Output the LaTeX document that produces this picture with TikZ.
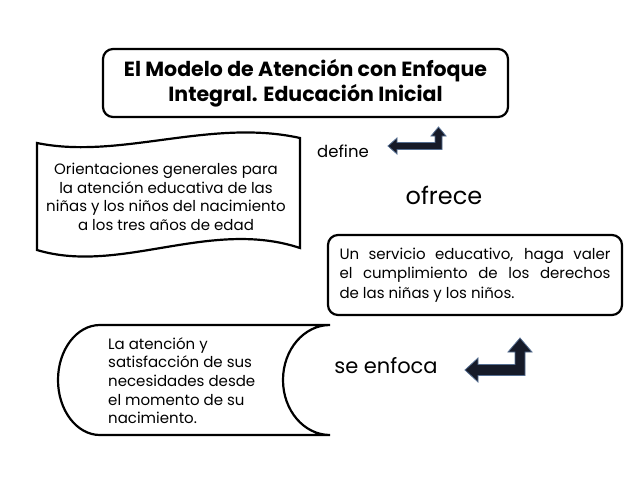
\documentclass[tikz,border=0pt]{standalone}
\usepackage{fontspec}
\setmainfont{Poppins}
\definecolor{arrowfill}{RGB}{22,26,40}
\definecolor{arrowedge}{RGB}{85,110,145}
\tikzset{
  outline/.style={line width=2.2pt},
  body/.style={font=\fontsize{15}{18.7}\selectfont},
  bentarrow/.style={fill=arrowfill, draw=arrowedge, line width=0.8pt, line join=miter},
}

\begin{document}
\begin{tikzpicture}[x=1pt,y=-1pt]
  \useasboundingbox (0,0) rectangle (638,479);
  % titulo
  \path (305.5,83) node[draw, outline, rounded corners=10pt, minimum width=405pt, minimum height=68pt, align=center, font=\bfseries\fontsize{20.5}{25}\selectfont] (modelo) {El Modelo de Atención con Enfoque\\Integral. Educación Inicial};
  % bandera
  \draw[outline] (37,143) .. controls (120,160) and (210,118) .. (300,138) -- (300,248) .. controls (210,218) and (120,275) .. (37,250) -- cycle;
  \path (166,197) node[body, align=center] (orientaciones) {Orientaciones generales para\\la atención educativa de las\\niñas y los niños del nacimiento\\a los tres años de edad};
  \path (343,151.5) node[font=\fontsize{16.5}{18}\selectfont] (define) {define};
  \path (444,195) node[font=\fontsize{24}{26}\selectfont] (ofrece) {ofrece};
  \draw[bentarrow] (388,146) -- (397,138) -- (397,142.5) -- (435,142.5) -- (435,136) -- (431,136) -- (438.5,127) -- (446,136) -- (442,136) -- (442,149.5) -- (397,149.5) -- (397,154) -- cycle;
  % servicio
  \path (475,275) node[draw, outline, rounded corners=10pt, body, text width=271pt, align=justify, inner xsep=11.5pt, minimum height=80pt, font=\fontsize{15}{19.5}\selectfont] (servicio) {Un servicio educativo, haga valer\linebreak el cumplimiento de los derechos\linebreak de las niñas y los niños.};
  % datos almacenados
  \draw[outline] (100,325) -- (330,325) .. controls (304,325) and (283,349.6) .. (283,380) .. controls (283,410.4) and (304,435) .. (330,435) -- (100,435) .. controls (76.8,435) and (58,410.4) .. (58,380) .. controls (58,349.6) and (76.8,325) .. cycle;
  \path (108,337) node[body, anchor=north west, align=left, inner sep=0pt] (atencion) {La atención y\\satisfacción de sus\\necesidades desde\\el momento de su\\nacimiento.};
  \path (386,366) node[font=\fontsize{21}{24}\selectfont] (enfoca) {se enfoca};
  \draw[bentarrow] (465,370) -- (478,358) -- (478,364.5) -- (515,364.5) -- (515,352) -- (508,352) -- (520,338) -- (532,352) -- (525,352) -- (525,375.5) -- (478,375.5) -- (478,382) -- cycle;
\end{tikzpicture}
\end{document}
